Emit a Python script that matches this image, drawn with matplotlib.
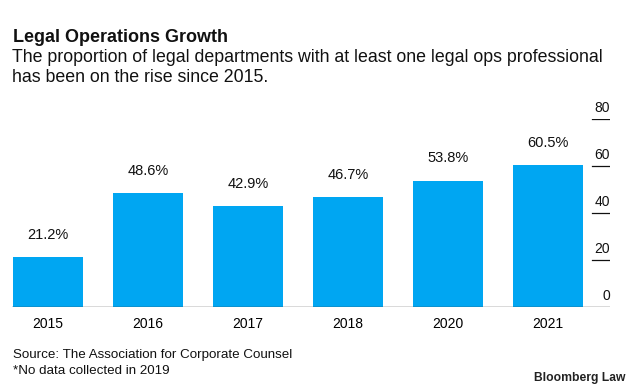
import matplotlib.pyplot as plt
import numpy as np

# ── Data ─────────────────────────────────────────────────────────────────────
years = ["2015", "2016", "2017", "2018", "2020", "2021"]
share = [21.2, 48.6, 42.9, 46.7, 53.8, 60.5]
y_ticks = [0, 20, 40, 60, 80]

bar_color = "#00A6F2"
text_color = "#111111"

plt.rcParams.update({
    "font.family": ["Liberation Sans", "DejaVu Sans"],
    "text.color": text_color,
})

fig = plt.figure(figsize=(6.33, 3.87), dpi=100)
W, H = 633, 387
# axes: x 12..610 px, y 119..307 px
ax = fig.add_axes([12 / W, (H - 307) / H, (610 - 12) / W, (307 - 119) / H])

x = np.arange(len(years))
ax.bar(x, share, width=0.7, color=bar_color, zorder=2)
ax.set_xlim(-0.36, 5.62)
ax.set_ylim(0, 80)

# value labels above bars
for xi, v in zip(x, share):
    ax.annotate(f"{v:.1f}%", (xi, v), xytext=(0, 11), textcoords="offset points",
                ha="center", va="bottom", fontsize=10.5)

# right-hand tick marks with labels sitting on top of them
frac0 = (592 - 12) / (610 - 12)
for t in y_ticks[1:]:
    ax.axhline(t, xmin=frac0, xmax=1.0, color=text_color, lw=0.9, zorder=1)
for t in y_ticks:
    ax.annotate(f"{t}", (1.0, t), xycoords=("axes fraction", "data"),
                xytext=(0, 3), textcoords="offset points",
                ha="right", va="bottom", fontsize=10, annotation_clip=False)

# baseline
ax.axhline(0, color="#444444", lw=1.0, zorder=3)

for s in ax.spines.values():
    s.set_visible(False)
ax.set_yticks([])
ax.set_xticks(x)
ax.set_xticklabels(years, fontsize=10)
ax.tick_params(axis="x", length=0, pad=7)

# ── Titles and notes ─────────────────────────────────────────────────────────
fig.text(13 / W, 1 - 38 / H, "Legal Operations Growth", fontsize=13,
         fontweight="bold", va="center", ha="left")
fig.text(12 / W, 1 - 57 / H,
         "The proportion of legal departments with at least one legal ops professional",
         fontsize=12.8, va="center", ha="left")
fig.text(12 / W, 1 - 78 / H, "has been on the rise since 2015.",
         fontsize=12.8, va="center", ha="left")

fig.text(13 / W, 1 - 355 / H, "Source: The Association for Corporate Counsel",
         fontsize=9.6, va="center", ha="left")
fig.text(13 / W, 1 - 371 / H, "*No data collected in 2019",
         fontsize=9.6, va="center", ha="left")
fig.text(625 / W, 1 - 378 / H, "Bloomberg Law", fontsize=8.7,
         fontweight="bold", va="center", ha="right", color="#222222")

fig.savefig("out.png", dpi=100)
